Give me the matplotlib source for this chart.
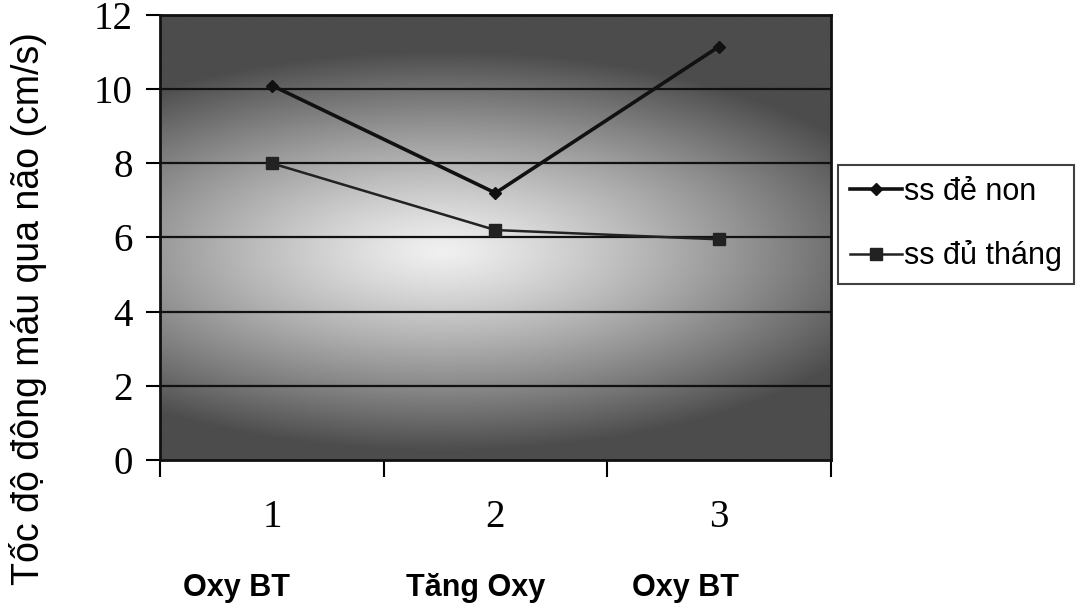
import numpy as np
import matplotlib
matplotlib.use("Agg")
import matplotlib.pyplot as plt

# tốc độ dòng máu theo từng giai đoạn oxy
giai_doan = [1, 2, 3]
nhom_giai_doan = ["Oxy BT", "Tăng Oxy", "Oxy BT"]
de_non = [10.1, 7.2, 11.15]
du_thang = [8.0, 6.2, 5.95]
y_ticks = [0, 2, 4, 6, 8, 10, 12]

fig = plt.figure(figsize=(10.83, 6.05), dpi=100)
ax = fig.add_axes([0.148, 0.240, 0.619, 0.735])

# nền xám chuyển sắc, sáng ở giữa
gx, gy = np.meshgrid(np.linspace(0, 1, 400), np.linspace(0, 1, 300))
r = np.sqrt(((gx - 0.42) / 0.72) ** 2 + ((gy - 0.47) / 0.45) ** 2)
shade = 0.94 - 0.64 * np.clip(r, 0, 1) ** 1.2
ax.imshow(shade, cmap="gray", vmin=0, vmax=1, origin="lower",
          extent=[0, 1, 0, 1], transform=ax.transAxes, aspect="auto",
          zorder=0, interpolation="bilinear")

ax.set_xlim(0.5, 3.5)
ax.set_ylim(0, 12)

for v in y_ticks[1:-1]:
    ax.axhline(v, color="#111111", lw=1.6, zorder=1)

ax.plot(giai_doan, de_non, color="#111111", lw=2.6, marker="D",
        markersize=6, label="ss đẻ non", zorder=3)
ax.plot(giai_doan, du_thang, color="#222222", lw=1.8, marker="s",
        markersize=8, label="ss đủ tháng", zorder=3)

for s in ax.spines.values():
    s.set_color("#111111")
    s.set_linewidth(2)

ax.set_yticks(y_ticks)
ax.set_yticklabels([str(v) for v in y_ticks], fontfamily="Liberation Serif",
                   fontsize=28)
ax.tick_params(axis="y", direction="out", length=10, width=1.5, pad=10)

# vạch chia giữa các giai đoạn, nhãn số ở giữa
ax.set_xticks([0.5, 1.5, 2.5, 3.5])
ax.set_xticklabels([])
ax.tick_params(axis="x", direction="out", length=12, width=1.5)
ax.set_xticks(giai_doan, minor=True)
ax.set_xticklabels([str(v) for v in giai_doan], minor=True,
                   fontfamily="Liberation Serif", fontsize=28)
ax.tick_params(axis="x", which="minor", length=0, pad=28)

# tên giai đoạn, lệch trái một chút so với số
lech = [-0.16, -0.09, -0.15]
for x, d, ten in zip(giai_doan, lech, nhom_giai_doan):
    ax.text(x + d, -3.45, ten, ha="center", va="center", fontsize=22,
            fontweight="bold", fontfamily="Liberation Sans")

fig.text(0.026, 0.49, "Tốc độ đông máu qua não (cm/s)", rotation=90,
         ha="center", va="center", fontsize=27, fontfamily="Liberation Sans")

leg = fig.legend(loc="upper left", bbox_to_anchor=(0.774, 0.728),
                 prop={"family": "Liberation Sans", "size": 22},
                 frameon=True, fancybox=False, edgecolor="#111111",
                 handlelength=1.7, handletextpad=0.05, labelspacing=1.1,
                 borderpad=0.4, borderaxespad=0)
leg.get_frame().set_linewidth(1.5)

fig.savefig("out.png", dpi=100, facecolor="white")
